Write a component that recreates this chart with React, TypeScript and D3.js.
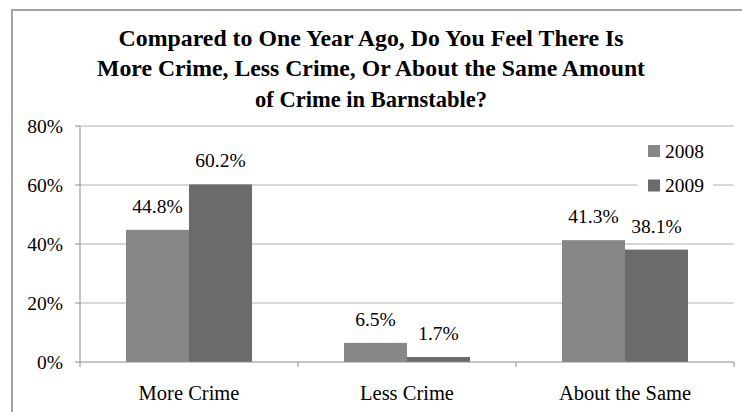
import React from "react";
import * as d3 from "d3";

const categories = ["More Crime", "Less Crime", "About the Same"];
const seriesNames = ["2008", "2009"];
const values2008 = [44.8, 6.5, 41.3];
const values2009 = [60.2, 1.7, 38.1];
const yTicks = [0, 20, 40, 60, 80];
const titleLines = [
  "Compared to One Year Ago, Do You Feel There Is",
  "More Crime, Less Crime, Or About the Same Amount",
  "of Crime in Barnstable?",
];
const titleWidths = [505, 548, 232];
const colors = ["#878787", "#6b6b6b"];

export default function App() {
  const W = 742, H = 412;
  const left = 80, right = 734, top = 126, bottom = 362;
  const y = d3.scaleLinear().domain([0, 80]).range([bottom, top]);
  const x0 = d3.scaleBand<string>().domain(categories).range([left, right]).padding(0);
  const bw = x0.bandwidth();
  const gap = bw * 0.211;
  const x1 = d3.scaleBand<string>().domain(seriesNames).range([gap, bw - gap]).padding(0);
  const seriesVals = [values2008, values2009];
  const font = "Liberation Serif";

  return (
    <svg width={W} height={H} style={{ position: "absolute", left: 0, top: 0, background: "#fff" }}>
      <rect x={12} y={10} width={800} height={500} fill="none" stroke="#9a9a9a" strokeWidth={1.8} />
      {titleLines.map((t, i) => (
        <text key={i} x={371} y={46 + i * 30.3} textAnchor="middle"
          fontFamily={font} fontWeight="bold" fontSize={23}
          textLength={titleWidths[i]} lengthAdjust="spacingAndGlyphs" fill="#000">{t}</text>
      ))}
      {yTicks.filter((t) => t > 0).map((t) => (
        <line key={"g" + t} x1={left} x2={right} y1={y(t)} y2={y(t)} stroke="#b0b0b0" strokeWidth={1} />
      ))}
      <rect x={638} y={136} width={75} height={62} fill="#fff" />
      {categories.map((c, ci) =>
        seriesNames.map((s, si) => {
          const v = seriesVals[si][ci];
          const bx = (x0(c) as number) + (x1(s) as number);
          return (
            <g key={c + s}>
              <rect x={bx} y={y(v)} width={x1.bandwidth()} height={y(0) - y(v)} fill={colors[si]} />
              <text x={bx + x1.bandwidth() / 2} y={y(v) - 17} textAnchor="middle" fontFamily={font}
                fontSize={19.5} fill="#000">{v.toFixed(1)}%</text>
            </g>
          );
        })
      )}
      <line x1={left} x2={left} y1={top} y2={bottom} stroke="#8c8c8c" strokeWidth={1} />
      <line x1={left} x2={right} y1={bottom} y2={bottom} stroke="#8c8c8c" strokeWidth={1} />
      {yTicks.map((t) => (
        <g key={"t" + t}>
          <line x1={left - 5} x2={left} y1={y(t)} y2={y(t)} stroke="#8c8c8c" />
          <text x={63} y={y(t) + 6.5} textAnchor="end" fontFamily={font} fontSize={19.5} fill="#000">{t}%</text>
        </g>
      ))}
      {[...categories.map((c) => x0(c) as number), right].map((xx, i) => (
        <line key={"xt" + i} x1={xx} x2={xx} y1={bottom} y2={bottom + 5} stroke="#8c8c8c" />
      ))}
      {categories.map((c) => (
        <text key={"c" + c} x={(x0(c) as number) + bw / 2} y={400} textAnchor="middle" fontFamily={font}
          fontSize={20.5} fill="#000">{c}</text>
      ))}
      {seriesNames.map((s, i) => (
        <g key={"l" + s}>
          <rect x={648} y={145 + i * 34.5} width={12} height={12} fill={colors[i]} />
          <text x={665} y={157.5 + i * 34.5} fontFamily={font} fontSize={19.5} fill="#000">{s}</text>
        </g>
      ))}
    </svg>
  );
}
